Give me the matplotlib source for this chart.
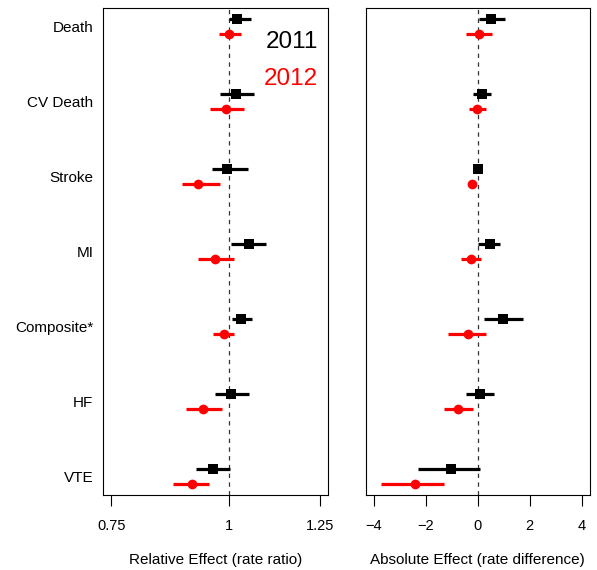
import numpy as np
import matplotlib
matplotlib.use("Agg")
import matplotlib.pyplot as plt

plt.rcParams['font.family'] = ['Liberation Sans', 'DejaVu Sans']

# outcomes, top to bottom
outcomes = ['Death', 'CV Death', 'Stroke', 'MI', 'Composite*', 'HF', 'VTE']

# relative effect (rate ratio), estimate and 95% CI
rr_2011 = [1.021, 1.019, 0.997, 1.052, 1.032, 1.006, 0.962]
rr_2011_lo = [1.000, 0.979, 0.960, 1.006, 1.008, 0.966, 0.923]
rr_2011_hi = [1.057, 1.063, 1.048, 1.097, 1.059, 1.050, 1.004]
rr_2012 = [1.000, 0.994, 0.927, 0.968, 0.988, 0.940, 0.915]
rr_2012_lo = [0.976, 0.956, 0.891, 0.928, 0.963, 0.900, 0.873]
rr_2012_hi = [1.031, 1.038, 0.978, 1.012, 1.012, 0.985, 0.954]

# absolute effect (rate difference), estimate and 95% CI
rd_2011 = [0.49, 0.14, -0.01, 0.45, 0.98, 0.10, -1.05]
rd_2011_lo = [0.03, -0.18, -0.15, 0.02, 0.23, -0.47, -2.29]
rd_2011_hi = [1.04, 0.50, 0.15, 0.86, 1.73, 0.64, 0.07]
rd_2012 = [0.03, -0.04, -0.22, -0.28, -0.38, -0.75, -2.41]
rd_2012_lo = [-0.47, -0.36, -0.35, -0.66, -1.15, -1.31, -3.73]
rd_2012_hi = [0.55, 0.31, -0.08, 0.13, 0.33, -0.18, -1.29]

years = ['2011', '2012']
year_colors = ['black', '#FF0000']
year_markers = ['s', 'o']

fig = plt.figure(figsize=(5.97, 5.7), dpi=100)
ax1 = fig.add_axes([0.1725, 0.1316, 0.3769, 0.8544])
ax2 = fig.add_axes([0.6126, 0.1316, 0.3757, 0.8544])

ypos = np.arange(len(outcomes), 0, -1)
offsets = [0.1, -0.1]


def draw_panel(ax, series, ref):
    ax.axvline(ref, color='#333333', lw=0.9, dashes=(3.5, 3.5), zorder=1)
    for k, (est, lo, hi) in enumerate(series):
        y = ypos + offsets[k]
        ax.hlines(y, lo, hi, color=year_colors[k], lw=2.3, zorder=2)
        ax.plot(est, y, linestyle='none', marker=year_markers[k],
                color=year_colors[k], ms=7.5 if k == 0 else 7, mew=0, zorder=3)
    ax.set_ylim(0.76, 7.24)
    for s in ax.spines.values():
        s.set_linewidth(0.8)
    ax.tick_params(axis='x', length=8, width=0.8, pad=9, labelsize=10.5)
    ax.tick_params(axis='y', length=0)


draw_panel(ax1, [(rr_2011, rr_2011_lo, rr_2011_hi),
                 (rr_2012, rr_2012_lo, rr_2012_hi)], 1)
ax1.set_xscale('log')
lo, hi = np.log(0.75), np.log(1.25)
pad = 0.04 * (hi - lo)
ax1.set_xlim(np.exp(lo - pad), np.exp(hi + pad))
ax1.set_xticks([0.75, 1, 1.25])
ax1.set_xticklabels(['0.75', '1', '1.25'])
ax1.xaxis.set_minor_locator(matplotlib.ticker.NullLocator())
ax1.set_yticks(ypos)
ax1.set_yticklabels(outcomes, fontsize=11)
ax1.tick_params(axis='y', pad=7)
ax1.set_xlabel('Relative Effect (rate ratio)', fontsize=11, labelpad=15)

for k, yr in enumerate(years):
    ax1.text(0.956, [0.931, 0.854][k], yr, transform=ax1.transAxes,
             ha='right', va='center', fontsize=17.5, color=year_colors[k])

draw_panel(ax2, [(rd_2011, rd_2011_lo, rd_2011_hi),
                 (rd_2012, rd_2012_lo, rd_2012_hi)], 0)
ax2.set_xlim(-4.32, 4.32)
ax2.set_xticks([-4, -2, 0, 2, 4])
ax2.set_yticks([])
ax2.set_xlabel('Absolute Effect (rate difference)', fontsize=11, labelpad=15)

fig.savefig('out.png', dpi=100)
